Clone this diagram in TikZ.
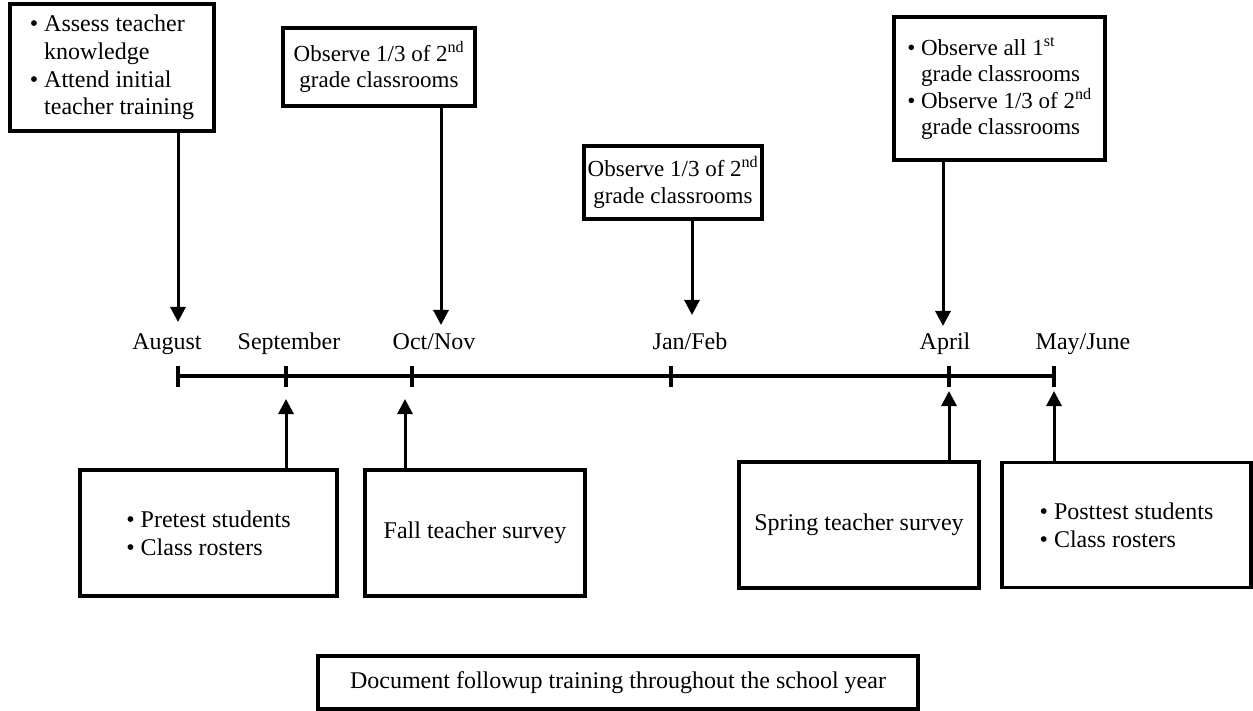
\documentclass[tikz,border=0pt]{standalone}
\usepackage{fontspec}
\setmainfont{Liberation Serif}
\usetikzlibrary{arrows.meta}
\begin{document}
\begin{tikzpicture}[x=1pt,y=-1pt,
  txt/.style={font=\fontsize{24}{27.6}\selectfont},
  smalltxt/.style={font=\fontsize{23}{26.5}\selectfont},
  box/.style={txt, draw, line width=3.5pt, inner sep=0pt, align=center},
  leftbox/.style={box, align=left},
  arr/.style={line width=3pt, -{Triangle[width=15pt,length=15pt]}},
  axis/.style={line width=3.5pt},
  month/.style={txt, anchor=base, inner sep=0pt}]
\useasboundingbox (0,0) rectangle (1253,711);
% top boxes
\node[leftbox, minimum width=204pt, minimum height=127pt] (b1) at (112,67.5)
  {\textbullet\ Assess teacher\\\hphantom{\textbullet\ }knowledge\\\textbullet\ Attend initial\\\hphantom{\textbullet\ }teacher training};
\node[box, smalltxt, minimum width=192pt, minimum height=78pt] (b2) at (379,67)
  {Observe 1/3 of 2\textsuperscript{nd}\\grade classrooms};
\node[box, smalltxt, minimum width=178pt, minimum height=73pt] (b3) at (673,182.5)
  {Observe 1/3 of 2\textsuperscript{nd}\\grade classrooms};
\node[leftbox, smalltxt, minimum width=211pt, minimum height=143pt] (b4) at (999.5,88.5)
  {\textbullet\ Observe all 1\textsuperscript{st}\\\hphantom{\textbullet\ }grade classrooms\\\textbullet\ Observe 1/3 of 2\textsuperscript{nd}\\\hphantom{\textbullet\ }grade classrooms};
% bottom boxes
\node[leftbox, minimum width=257pt, minimum height=126pt] (b5) at (208.5,533)
  {\textbullet\ Pretest students\\\textbullet\ Class rosters};
\node[box, minimum width=220pt, minimum height=126pt] (b6) at (475,533)
  {Fall teacher survey};
\node[box, minimum width=240pt, minimum height=126pt] (b7) at (859,525)
  {Spring teacher survey};
\node[leftbox, minimum width=249pt, minimum height=125pt] (b8) at (1126.5,525)
  {\textbullet\ Posttest students\\\textbullet\ Class rosters};
\node[box, minimum width=600pt, minimum height=53pt] (b9) at (618,682.5)
  {Document followup training throughout the school year};
% timeline
\coordinate (tAug) at (178,376);
\coordinate (tSep) at (286,376);
\coordinate (tOct) at (412,376);
\coordinate (tJan) at (671,376);
\coordinate (tApr) at (949,376);
\coordinate (tMay) at (1054,376);
\draw[axis] (tAug) -- (tMay);
\foreach \t in {tAug,tSep,tOct,tJan,tApr,tMay}
  \draw[axis] ([yshift=-10.5pt]\t) -- ([yshift=10.5pt]\t);
% month labels
\node[month] (lAug) at (167,349) {August};
\node[month] (lSep) at (289,349) {September};
\node[month] (lOct) at (434,349) {Oct/Nov};
\node[month] (lJan) at (690,349) {Jan/Feb};
\node[month] (lApr) at (945,349) {April};
\node[month] (lMay) at (1083,349) {May/June};
% arrow tips
\coordinate (d1) at (178,322);
\coordinate (d2) at (441,325);
\coordinate (d3) at (692,315);
\coordinate (d4) at (943,326);
\coordinate (u5) at (286,399);
\coordinate (u6) at (405,399);
\coordinate (u7) at (949,391);
\coordinate (u8) at (1054,391);
\draw[arr] (b1.south -| d1) -- (d1);
\draw[arr] (b2.south -| d2) -- (d2);
\draw[arr] (b3.south -| d3) -- (d3);
\draw[arr] (b4.south -| d4) -- (d4);
\draw[arr] (b5.north -| u5) -- (u5);
\draw[arr] (b6.north -| u6) -- (u6);
\draw[arr] (b7.north -| u7) -- (u7);
\draw[arr] (b8.north -| u8) -- (u8);
\end{tikzpicture}
\end{document}
